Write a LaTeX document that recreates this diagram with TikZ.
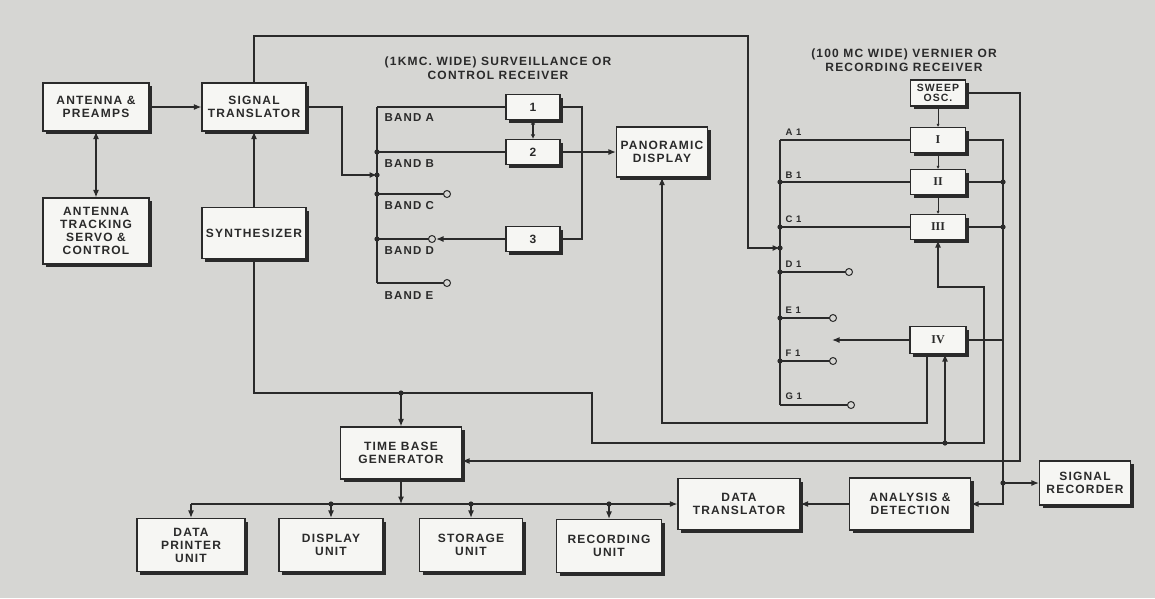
\documentclass[tikz,border=0pt]{standalone}
\usepackage{fontspec}
\setmainfont{Liberation Sans}[LetterSpace=10]
\newfontfamily\romfont{Liberation Serif}
\usetikzlibrary{arrows.meta,shadows}
\definecolor{bg}{RGB}{214,214,211}
\definecolor{ink}{RGB}{42,42,42}
\definecolor{boxfill}{RGB}{246,246,243}
\tikzset{
  blk/.style={draw=ink, fill=boxfill, line width=1.1pt, align=center, inner sep=1pt,
    drop shadow={shadow xshift=3pt, shadow yshift=-3pt, fill=ink, opacity=1}},
  arr/.style={-{Latex[length=7.5pt,width=6pt]}},
  darr/.style={{Latex[length=7.5pt,width=6pt]}-{Latex[length=7.5pt,width=6pt]}},
  sarr/.style={{Latex[length=4.5pt,width=4.5pt]}-{Latex[length=4.5pt,width=4.5pt]}},
  tarr/.style={line width=0.5pt, -{Latex[length=3pt,width=3pt]}},
  lbl/.style={font=\bfseries\fontsize{11.5}{13}\selectfont, inner sep=0pt},
  slbl/.style={font=\bfseries\fontsize{9.5}{11}\selectfont, inner sep=0pt},
  ttl/.style={font=\bfseries\fontsize{12}{13.5}\selectfont, align=center, inner sep=0pt},
  dot/.style={circle, fill=ink, inner sep=0pt, minimum size=5.2pt},
  ocirc/.style={circle, draw=ink, fill=bg, line width=1pt, inner sep=0pt, minimum size=7pt}
}
\begin{document}
\begin{tikzpicture}[x=1pt, y=-1pt, line width=1.3pt, color=ink,
  font=\bfseries\fontsize{12}{13}\selectfont]
\fill[bg] (0,0) rectangle (1155,598);

% ---------- boxes ----------
\node[blk, minimum width=106pt, minimum height=48pt] (ap)  at (96,107)  {ANTENNA \&\\PREAMPS};
\node[blk, minimum width=104pt, minimum height=48pt] (st)  at (254,107) {SIGNAL\\TRANSLATOR};
\node[blk, minimum width=106pt, minimum height=66pt] (ats) at (96,231)  {ANTENNA\\TRACKING\\SERVO \&\\CONTROL};
\node[blk, minimum width=104pt, minimum height=51pt] (syn) at (254,233) {SYNTHESIZER};

\node[blk, minimum width=54pt, minimum height=25pt] (b1) at (533,107) {1};
\node[blk, minimum width=54pt, minimum height=25pt] (b2) at (533,152) {2};
\node[blk, minimum width=54pt, minimum height=25pt] (b3) at (533,239) {3};
\node[blk, minimum width=91pt, minimum height=50pt] (pd) at (662,152) {PANORAMIC\\DISPLAY};

\node[blk, minimum width=55pt, minimum height=26pt, font=\bfseries\fontsize{10.5}{10.5}\selectfont] (sw) at (938,93) {SWEEP\\OSC.};
\node[blk, minimum width=55pt, minimum height=25pt, font=\bfseries\romfont\fontsize{12}{13}\selectfont] (r1) at (938,140) {I};
\node[blk, minimum width=55pt, minimum height=25pt, font=\bfseries\romfont\fontsize{12}{13}\selectfont] (r2) at (938,182) {II};
\node[blk, minimum width=55pt, minimum height=25pt, font=\bfseries\romfont\fontsize{12}{13}\selectfont] (r3) at (938,227) {III};
\node[blk, minimum width=56pt, minimum height=27pt, font=\bfseries\romfont\fontsize{12}{13}\selectfont] (r4) at (938,340) {IV};

\node[blk, minimum width=121pt, minimum height=52pt] (tbg) at (401,453) {TIME BASE\\GENERATOR};
\node[blk, minimum width=108pt, minimum height=53pt] (dpu) at (191,545) {DATA\\PRINTER\\UNIT};
\node[blk, minimum width=104pt, minimum height=53pt] (du)  at (331,545) {DISPLAY\\UNIT};
\node[blk, minimum width=103pt, minimum height=53pt] (su)  at (471,545) {STORAGE\\UNIT};
\node[blk, minimum width=105pt, minimum height=53pt] (ru)  at (609,546) {RECORDING\\UNIT};
\node[blk, minimum width=122pt, minimum height=51pt] (dt)  at (739,504) {DATA\\TRANSLATOR};
\node[blk, minimum width=121pt, minimum height=52pt] (ad)  at (910,504) {ANALYSIS \&\\DETECTION};
\node[blk, minimum width=91pt,  minimum height=44pt] (sr)  at (1085,483) {SIGNAL\\RECORDER};

% ---------- titles ----------
\node[ttl] (tt1) at (498,68) {(1KMC. WIDE) SURVEILLANCE OR\\CONTROL RECEIVER};
\node[ttl] (tt2) at (904,60) {(100 MC WIDE) VERNIER OR\\RECORDING RECEIVER};

% ---------- coordinates ----------
\coordinate (c1) at (254,36);  \coordinate (c2) at (748,36);
\coordinate (c3) at (748,248); \coordinate (vin) at (780,248);
\coordinate (s1) at (342,107); \coordinate (s2) at (342,175); \coordinate (sin) at (377,175);
\coordinate (sa) at (377,107); \coordinate (sb) at (377,152); \coordinate (sc) at (377,194);
\coordinate (sd) at (377,239); \coordinate (se) at (377,283);
\coordinate (oc) at (447,194); \coordinate (od) at (432,239); \coordinate (odt) at (436,239);
\coordinate (oe) at (447,283);
\coordinate (m1) at (582,107); \coordinate (m2) at (582,239);
\coordinate (p1) at (662,423); \coordinate (p2) at (927,423);
\coordinate (va) at (780,140); \coordinate (vb) at (780,182); \coordinate (vc) at (780,227);
\coordinate (vd) at (780,272); \coordinate (ve) at (780,318); \coordinate (vf) at (780,361);
\coordinate (vg) at (780,405);
\coordinate (od1) at (849,272); \coordinate (oe1) at (833,318); \coordinate (of1) at (833,361);
\coordinate (og1) at (851,405); \coordinate (vsw) at (832,340);
\coordinate (k1) at (938,287); \coordinate (k2) at (984,287); \coordinate (k3) at (984,443);
\coordinate (k4) at (592,443); \coordinate (k5) at (592,393); \coordinate (k6) at (254,393);
\coordinate (tj) at (401,393); \coordinate (ij) at (945,443);
\coordinate (w1) at (1020,93); \coordinate (w2) at (1020,461);
\coordinate (o1) at (1003,140); \coordinate (o2) at (1003,182); \coordinate (o3) at (1003,227);
\coordinate (o4) at (1003,340); \coordinate (o5) at (1003,483); \coordinate (o6) at (1003,504);
\coordinate (q0) at (191,504); \coordinate (qt) at (401,504); \coordinate (q1) at (331,504);
\coordinate (q2) at (471,504); \coordinate (q3) at (609,504);

% ---------- connectors: left ----------
\draw[arr] (ap.east) -- (st.west);
\draw[darr] (ap.south) -- (ats.north);
\draw[arr] (syn.north) -- (st.south);
\draw[arr] (st.north) -- (c1) -- (c2) -- (c3) -- (vin);
\draw[arr] (st.east) -- (s1) -- (s2) -- (sin);

% ---------- surveillance receiver ----------
\draw (sa) -- (se);
\draw (sa) -- (b1.west);
\draw (sb) -- (b2.west);
\draw (sc) -- (oc);
\draw (sd) -- (od);
\draw[arr] (b3.west) -- (odt);
\draw (se) -- (oe);
\draw (b1.east) -- (m1) -- (m2) -- (b3.east);
\draw[arr] (b2.east) -- (pd.west);
\draw[sarr] (b2.north) -- (b1.south);
\node[dot] (db) at (sb) {}; \node[dot] (dc) at (sc) {}; \node[dot] (dd) at (sd) {};
\node[dot] (din) at (sin) {};
\node[ocirc] (cc) at (oc) {}; \node[ocirc] (cd) at (od) {}; \node[ocirc] (ce) at (oe) {};
\node[lbl, anchor=west] (la) at (384,118) {BAND A};
\node[lbl, anchor=west] (lb) at (384,164) {BAND B};
\node[lbl, anchor=west] (lc) at (384,206) {BAND C};
\node[lbl, anchor=west] (ld) at (384,251) {BAND D};
\node[lbl, anchor=west] (le) at (384,296) {BAND E};

% ---------- panoramic feed ----------
\draw[arr] (p2 |- r4.south) -- (p2) -- (p1) -- (pd.south);

% ---------- vernier receiver ----------
\draw (va) -- (vg);
\draw (va) -- (r1.west);
\draw (vb) -- (r2.west);
\draw (vc) -- (r3.west);
\draw (vd) -- (od1);
\draw (ve) -- (oe1);
\draw (vf) -- (of1);
\draw (vg) -- (og1);
\draw[arr] (r4.west) -- (vsw);
\draw[tarr] (sw.south) -- (r1.north);
\draw[tarr] (r1.south) -- (r2.north);
\draw[tarr] (r2.south) -- (r3.north);
\node[dot] (dvb) at (vb) {}; \node[dot] (dvc) at (vc) {}; \node[dot] (dvd) at (vd) {};
\node[dot] (dve) at (ve) {}; \node[dot] (dvf) at (vf) {}; \node[dot] (dvin) at (vin) {};
\node[ocirc] (cd1) at (od1) {}; \node[ocirc] (ce1) at (oe1) {};
\node[ocirc] (cf1) at (of1) {}; \node[ocirc] (cg1) at (og1) {};
\node[slbl, anchor=west] (l1) at (785,132) {A 1};
\node[slbl, anchor=west] (l2) at (785,175) {B 1};
\node[slbl, anchor=west] (l3) at (785,219) {C 1};
\node[slbl, anchor=west] (l4) at (785,264) {D 1};
\node[slbl, anchor=west] (l5) at (785,310) {E 1};
\node[slbl, anchor=west] (l6) at (785,353) {F 1};
\node[slbl, anchor=west] (l7) at (785,396) {G 1};

% ---------- timing loops ----------
\draw[arr] (syn.south) -- (k6) -- (k5) -- (k4) -- (k3) -- (k2) -- (k1) -- (r3.south);
\draw[arr] (tj) -- (tbg.north);
\node[dot] (dtj) at (tj) {};
\draw[arr] (ij) -- (ij |- r4.south);
\node[dot] (dij) at (ij) {};
\draw[arr] (sw.east) -- (w1) -- (w2) -- (w2 -| tbg.east);

% ---------- output bus ----------
\draw[arr] (r1.east) -- (o1) -- (o6) -- (ad.east);
\draw (r2.east) -- (o2);
\draw (r3.east) -- (o3);
\draw (r4.east) -- (o4);
\draw[arr] (o5) -- (sr.west);
\node[dot] (do2) at (o2) {}; \node[dot] (do3) at (o3) {}; \node[dot] (do5) at (o5) {};
\draw[arr] (ad.west) -- (dt.east);

% ---------- bottom distribution ----------
\draw[arr] (tbg.south) -- (qt);
\draw[arr] (q0) -- (dt.west);
\draw[arr] (q0) -- (dpu.north);
\draw[arr] (q1) -- (du.north);
\draw[arr] (q2) -- (su.north);
\draw[arr] (q3) -- (ru.north);
\node[dot] (dq1) at (q1) {}; \node[dot] (dq2) at (q2) {}; \node[dot] (dq3) at (q3) {};
\end{tikzpicture}
\end{document}
